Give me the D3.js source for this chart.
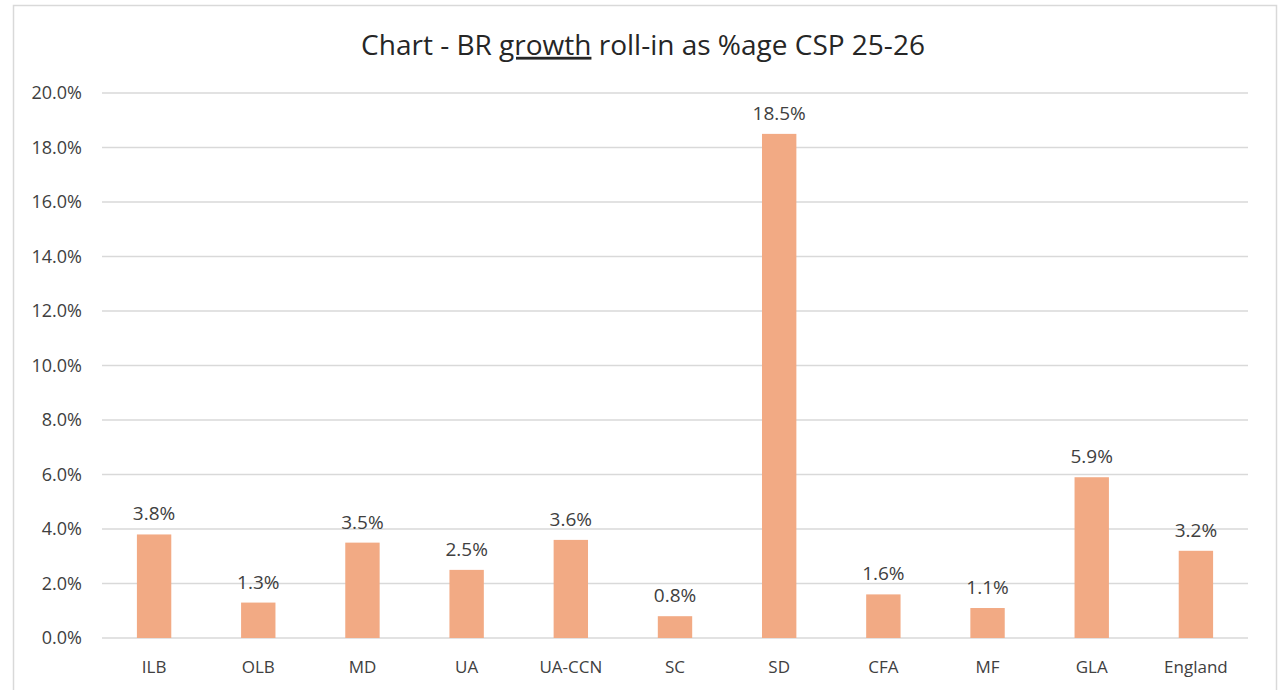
<!DOCTYPE html>
<html>
<head>
<meta charset="utf-8">
<script src="https://cdn.jsdelivr.net/npm/d3@7"></script>
<style>
  body { margin: 0; background: #fff; }
  text { font-family: "Open Sans", "Noto Sans", sans-serif; fill: #404040; }
</style>
</head>
<body>
<svg></svg>
<script>
const categories = ["ILB", "OLB", "MD", "UA", "UA-CCN", "SC", "SD", "CFA", "MF", "GLA", "England"];
const values = [3.8, 1.3, 3.5, 2.5, 3.6, 0.8, 18.5, 1.6, 1.1, 5.9, 3.2];
const yTicks = [0, 2, 4, 6, 8, 10, 12, 14, 16, 18, 20];

const width = 1286;
const height = 690;
const plot = { left: 102, right: 1248, top: 93, bottom: 638 };

const svg = d3.select("svg")
    .attr("width", width)
    .attr("height", height);

// chart frame
svg.append("rect")
    .attr("x", 13.5)
    .attr("y", 5.5)
    .attr("width", 1263)
    .attr("height", 700)
    .attr("fill", "#fff")
    .attr("stroke", "#d9d9d9")
    .attr("stroke-width", 1.5);

const x = d3.scaleBand()
    .domain(categories)
    .range([plot.left, plot.right])
    .paddingInner(0.67)
    .paddingOuter(0.335);

const y = d3.scaleLinear()
    .domain([0, 20])
    .range([plot.bottom, plot.top]);

// gridlines
svg.append("g")
    .selectAll("line")
    .data(yTicks)
    .enter().append("line")
    .attr("x1", plot.left)
    .attr("x2", plot.right)
    .attr("y1", d => y(d))
    .attr("y2", d => y(d))
    .attr("stroke", "#d9d9d9")
    .attr("stroke-width", 1.5);

// y tick labels
svg.append("g")
    .selectAll("text")
    .data(yTicks)
    .enter().append("text")
    .attr("x", 82)
    .attr("y", d => y(d))
    .attr("dy", "0.35em")
    .attr("text-anchor", "end")
    .style("font-size", "18px")
    .text(d => d.toFixed(1) + "%");

// bars
svg.append("g")
    .selectAll("rect")
    .data(values)
    .enter().append("rect")
    .attr("x", (d, i) => x(categories[i]))
    .attr("width", x.bandwidth())
    .attr("y", d => y(d))
    .attr("height", d => y(0) - y(d))
    .attr("fill", "#f2aa84");

// value labels
svg.append("g")
    .selectAll("text")
    .data(values)
    .enter().append("text")
    .attr("x", (d, i) => x(categories[i]) + x.bandwidth() / 2)
    .attr("y", d => y(d) - 14)
    .attr("text-anchor", "middle")
    .style("font-size", "19px")
    .text(d => d.toFixed(1) + "%");

// category labels
svg.append("g")
    .selectAll("text")
    .data(categories)
    .enter().append("text")
    .attr("x", d => x(d) + x.bandwidth() / 2)
    .attr("y", 667)
    .attr("dy", "0.35em")
    .attr("text-anchor", "middle")
    .style("font-size", "17px")
    .text(d => d);

// title
const title = svg.append("text")
    .attr("x", 643)
    .attr("y", 45)
    .attr("dy", "0.35em")
    .attr("text-anchor", "middle")
    .style("font-size", "28px")
    .style("fill", "#262626");
title.append("tspan").text("Chart - BR ");
title.append("tspan").style("text-decoration", "underline").text("growth");
title.append("tspan").text(" roll-in as %age CSP 25-26");
</script>
</body>
</html>
